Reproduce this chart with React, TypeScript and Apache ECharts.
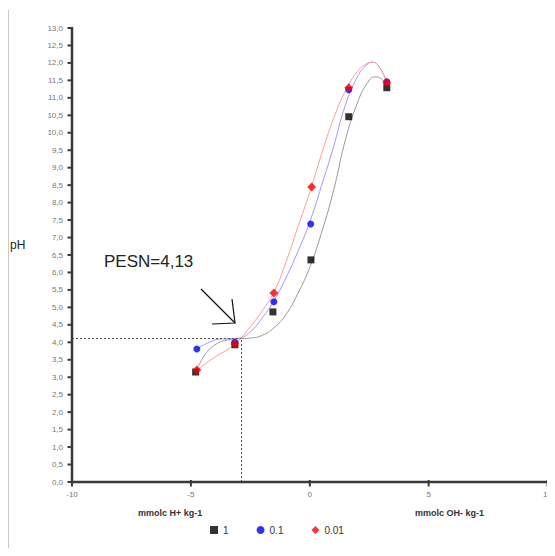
import React, { useEffect, useRef } from "react";
import * as echarts from "echarts";

// Measured points [mmolc kg-1, pH]
const pts1: number[][] = [[-4.8, 3.15], [-3.15, 3.93], [-1.55, 4.87], [0.05, 6.36], [1.64, 10.46], [3.24, 11.29]];
const pts01: number[][] = [[-4.75, 3.81], [-3.15, 4.0], [-1.51, 5.16], [0.04, 7.39], [1.64, 11.23], [3.24, 11.46]];
const pts001: number[][] = [[-4.75, 3.21], [-3.15, 3.95], [-1.51, 5.41], [0.08, 8.45], [1.64, 11.29], [3.24, 11.43]];

// Trend curves
const curve1: number[][] = [[-4.8, 3.15], [-4.4, 3.65], [-4.0, 3.92], [-3.5, 4.06], [-3.0, 4.1], [-2.5, 4.12], [-2.0, 4.2], [-1.5, 4.42], [-1.0, 4.8], [-0.5, 5.4], [0, 6.15], [0.5, 7.15], [1.0, 8.35], [1.5, 9.8], [2.0, 10.85], [2.4, 11.4], [2.75, 11.6], [3.0, 11.55], [3.24, 11.3]];
const curve01: number[][] = [[-4.75, 3.81], [-4.3, 3.98], [-3.9, 4.08], [-3.5, 4.1], [-3.0, 4.12], [-2.5, 4.3], [-2.0, 4.7], [-1.5, 5.2], [-1.0, 5.85], [-0.5, 6.6], [0, 7.45], [0.5, 8.5], [1.0, 9.6], [1.5, 10.8], [2.0, 11.6], [2.4, 11.95], [2.65, 12.02], [2.95, 11.85], [3.24, 11.46]];
const curve001: number[][] = [[-4.75, 3.21], [-4.0, 3.57], [-3.15, 3.95], [-2.5, 4.45], [-2.0, 4.9], [-1.5, 5.45], [-1.0, 6.3], [-0.5, 7.3], [0, 8.3], [0.5, 9.4], [1.0, 10.4], [1.5, 11.2], [2.0, 11.75], [2.4, 11.98], [2.65, 12.02], [2.95, 11.85], [3.24, 11.43]];

const seriesNames = ["1", "0.1", "0.01"];
const xTicks = [-10, -5, 0, 5, 10];
const yTicks = [0, 0.5, 1, 1.5, 2, 2.5, 3, 3.5, 4, 4.5, 5, 5.5, 6, 6.5, 7, 7.5, 8, 8.5, 9, 9.5, 10, 10.5, 11, 11.5, 12, 12.5, 13];
const pesn = 4.13;
const pesnX = -2.9;
const annotation = "PESN=4,13";
const xNameLeft = "mmolc H+ kg-1";
const xNameRight = "mmolc OH- kg-1";

const FONT = "Liberation Sans, Arial, sans-serif";
const AXIS = "#3a3a3a";

export default function App() {
  const ref = useRef<HTMLDivElement>(null);
  useEffect(() => {
    if (!ref.current) return;
    const chart = echarts.init(ref.current, null, { renderer: "svg" });
    const dotted = { color: "#555", type: [2, 2] as any, width: 1 };
    const staticGraphic: any[] = [
      { type: "line", shape: { x1: 8, y1: 10, x2: 8, y2: 556 }, style: { stroke: "#c8c8c8", lineWidth: 2 } },
      { type: "text", left: 10, top: 239, style: { text: "pH", fontSize: 12, fill: "#222", fontFamily: FONT } },
      { type: "text", left: 104, top: 253, style: { text: annotation, fontSize: 17, fill: "#222", fontFamily: FONT } },
      { type: "line", shape: { x1: 201, y1: 289, x2: 235, y2: 323 }, style: { stroke: "#111", lineWidth: 1.2 } },
      { type: "polyline", shape: { points: [[212, 324], [235, 323], [232, 299]] }, style: { stroke: "#111", lineWidth: 1.2, fill: "none" } },
      { type: "text", left: 138, top: 508, style: { text: xNameLeft, fontSize: 9, fontWeight: "bold", fill: "#333", fontFamily: FONT } },
      { type: "text", left: 415, top: 508, style: { text: xNameRight, fontSize: 9, fontWeight: "bold", fill: "#333", fontFamily: FONT } },
    ];
    chart.setOption({
      animation: false,
      grid: { left: 72, right: 7, top: 28, bottom: 74 },
      legend: {
        bottom: 16,
        left: 205,
        itemWidth: 8,
        itemHeight: 8,
        itemGap: 28,
        textStyle: { fontSize: 10, color: "#333", fontFamily: FONT },
        data: [
          { name: seriesNames[0], icon: "rect" },
          { name: seriesNames[1], icon: "circle" },
          { name: seriesNames[2], icon: "diamond" },
        ],
      },
      xAxis: {
        type: "value",
        min: xTicks[0],
        max: xTicks[xTicks.length - 1],
        interval: 5,
        splitLine: { show: false },
        axisLine: { show: false },
        axisTick: { show: false },
        axisLabel: { fontSize: 8, color: "#777", margin: 8, fontFamily: FONT },
      },
      yAxis: {
        type: "value",
        min: yTicks[0],
        max: yTicks[yTicks.length - 1],
        interval: 0.5,
        splitLine: { show: false },
        axisLine: { show: false },
        axisTick: { show: false },
        axisLabel: {
          fontSize: 8,
          color: "#777",
          margin: 9,
          fontFamily: FONT,
          formatter: (v: number) => v.toFixed(1).replace(".", ","),
        },
      },
      series: [
        {
          name: "c1",
          type: "line",
          data: curve1,
          smooth: true,
          showSymbol: false,
          silent: true,
          lineStyle: { color: "#999", width: 1 },
          z: 1,
          markLine: {
            silent: true,
            symbol: "none",
            label: { show: false },
            lineStyle: dotted,
            data: [
              [{ coord: [-10, pesn] }, { coord: [pesnX, pesn] }],
              [{ coord: [pesnX, 0] }, { coord: [pesnX, pesn] }],
            ],
          },
        },
        { name: "c01", type: "line", data: curve01, smooth: true, showSymbol: false, silent: true, lineStyle: { color: "#9a9aff", width: 1 }, z: 1 },
        { name: "c001", type: "line", data: curve001, smooth: true, showSymbol: false, silent: true, lineStyle: { color: "#ff9a9a", width: 1 }, z: 1 },
        { name: seriesNames[0], type: "scatter", data: pts1, symbol: "rect", symbolSize: 7, itemStyle: { color: "#000" }, z: 3 },
        { name: seriesNames[1], type: "scatter", data: pts01, symbol: "circle", symbolSize: 7, itemStyle: { color: "#0000ff" }, z: 4 },
        { name: seriesNames[2], type: "scatter", data: pts001, symbol: "diamond", symbolSize: 9, itemStyle: { color: "#ff0000" }, z: 5 },
      ],
      graphic: staticGraphic,
    });

    // Axis lines and ticks positioned through the chart's own scales
    const px = (x: number, y: number) => chart.convertToPixel({ gridIndex: 0 }, [x, y]) as number[];
    const x0 = xTicks[0], x1 = xTicks[xTicks.length - 1];
    const y0 = yTicks[0], y1 = yTicks[yTicks.length - 1];
    const o = px(x0, y0);
    const t = px(x0, y1);
    const r = px(x1, y0);
    const axisEls: any[] = [
      { type: "line", z: 10, shape: { x1: o[0], y1: t[1] - 1, x2: o[0], y2: o[1] + 1.5 }, style: { stroke: AXIS, lineWidth: 2.5 } },
      { type: "line", z: 10, shape: { x1: o[0] - 1, y1: o[1], x2: r[0] + 1, y2: o[1] }, style: { stroke: AXIS, lineWidth: 2.5 } },
    ];
    yTicks.forEach((v) => {
      const p = px(x0, v);
      axisEls.push({ type: "line", z: 10, shape: { x1: p[0] - 4.5, y1: p[1], x2: p[0], y2: p[1] }, style: { stroke: AXIS, lineWidth: 2 } });
    });
    xTicks.forEach((v) => {
      const p = px(v, y0);
      axisEls.push({ type: "line", z: 10, shape: { x1: p[0], y1: p[1] - 2, x2: p[0], y2: p[1] + 4.5 }, style: { stroke: AXIS, lineWidth: 2 } });
    });
    chart.setOption({ graphic: [...staticGraphic, ...axisEls] });

    return () => chart.dispose();
  }, []);
  return <div ref={ref} style={{ width: 555, height: 556, margin: -8 }} />;
}
